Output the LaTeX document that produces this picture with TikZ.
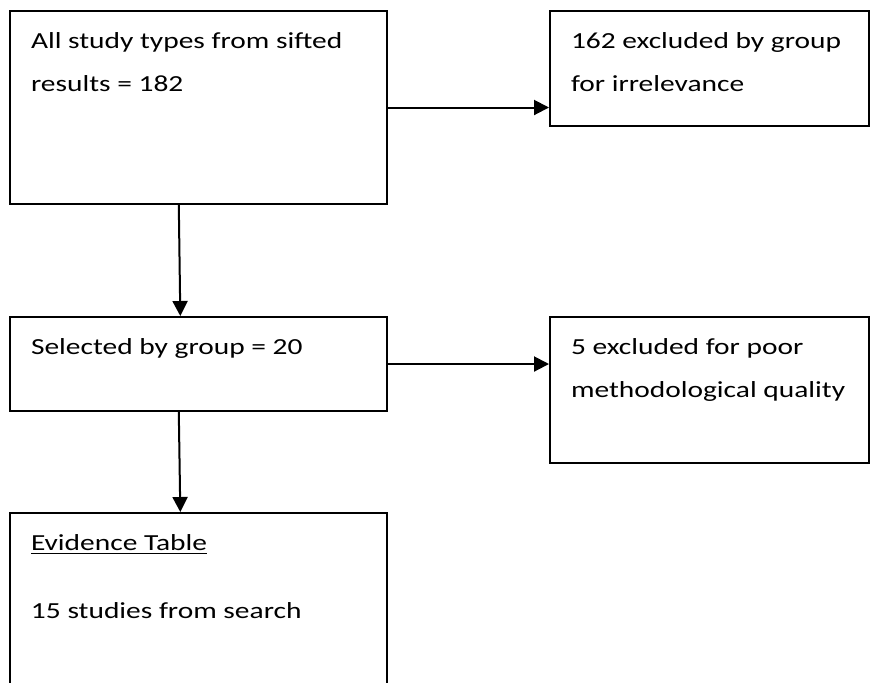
\documentclass[tikz,border=0pt]{standalone}
\usepackage{fontspec}
\setmainfont{Carlito}[FakeStretch=1.28]
\usetikzlibrary{arrows.meta,calc,positioning}

\newcommand{\stagetext}[3]{\parbox[c][#2][t]{#1}{\raggedright\leftskip=10.5pt\rule{0pt}{18.5pt}#3}}

\begin{document}
\begin{tikzpicture}[
    font=\fontsize{11.5}{21.5}\selectfont,
    stage/.style={draw, line width=1pt, inner sep=0pt, anchor=north west},
    flow/.style={-{Triangle[length=7.5pt, width=7.5pt]}, line width=1pt}
]

\useasboundingbox (0,0) rectangle (435pt,-341pt);

\node[stage] (sifted) at (4.5pt,-5pt)
    {\stagetext{188.5pt}{96.5pt}{All study types from sifted\\results = 182}};
\node[stage, below right=0pt and 80.5pt of sifted.north east] (irrel)
    {\stagetext{159.5pt}{57.5pt}{162 excluded by group\\for irrelevance}};
\node[stage, below=55.5pt of sifted] (selected)
    {\stagetext{188.5pt}{47pt}{Selected by group = 20}};
\node[stage, below right=0pt and 80.5pt of selected.north east] (poor)
    {\stagetext{159.5pt}{73pt}{5 excluded for poor\\methodological quality}};
\node[stage, below=50pt of selected] (evidence)
    {\stagetext{188.5pt}{100pt}{\underline{Evidence Table}\\[12.5pt]15 studies from search}};

\draw[flow] (sifted.east) -- (sifted.east -| irrel.west);
\draw[flow] (selected.east) -- (selected.east -| poor.west);
\draw[flow] ($(sifted.south west)!.448!(sifted.south east)$)
    -- ($(selected.north west)!.452!(selected.north east)$);
\draw[flow] ($(selected.south west)!.448!(selected.south east)$)
    -- ($(evidence.north west)!.452!(evidence.north east)$);

\end{tikzpicture}
\end{document}
